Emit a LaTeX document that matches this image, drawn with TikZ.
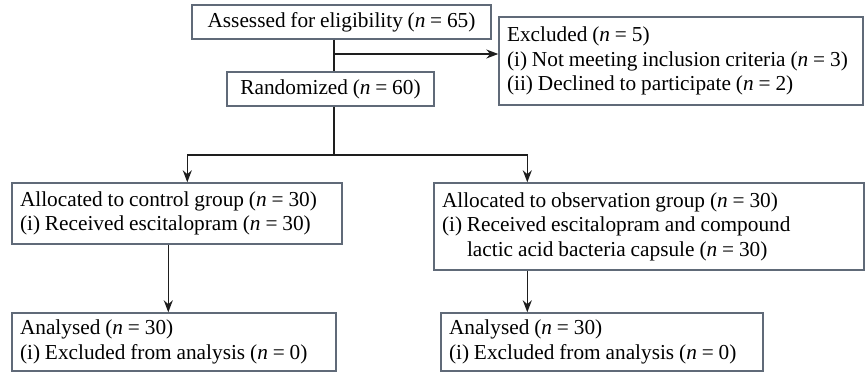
\documentclass[tikz,border=0pt]{standalone}
\usepackage{fontspec}
\setmainfont[WordSpace=0.9]{Liberation Serif}
\usepackage{tikz}
\usetikzlibrary{arrows.meta,positioning}
\usepackage{xcolor}
\definecolor{cfgray}{RGB}{96,106,120}
\definecolor{cfline}{RGB}{30,30,30}
\tikzstyle{stagebox} = [rectangle, draw=cfgray, line width=1.4pt, inner sep=0pt, text centered, font=\fontsize{21.3}{24.5}\selectfont]
\tikzstyle{listbox} = [stagebox, align=left, inner xsep=8pt, execute at begin node={\spaceskip=0.23em\relax}]
\tikzstyle{line} = [line width=1.5pt, color=cfline]
\tikzstyle{arrow} = [line, -{Stealth[length=12pt,width=9pt]}]

\begin{document}
\begin{tikzpicture}[x=1pt, y=-1pt]
\useasboundingbox (0,0) rectangle (866,377);

% Enrollment
\node[stagebox, minimum width=299pt, minimum height=34pt] (assess) at (341.5,22) {Assessed for eligibility (\textit{n} = 65)};
\node[stagebox, minimum width=207pt, minimum height=34pt] (rand) at (330.5,89) {Randomized (\textit{n} = 60)};
\node[listbox, text width=348pt, minimum height=88pt] (excl) at (681,61) {Excluded (\textit{n} = 5)\\(i) Not meeting inclusion criteria (\textit{n} = 3)\\(ii) Declined to participate (\textit{n} = 2)};

\coordinate (branch) at (334,54);
\coordinate (split) at (334,155);

\draw[line] (assess.south -| branch) -- (rand.north -| branch);
\draw[arrow] (branch) -- (branch -| excl.west);

% Allocation
\node[listbox, text width=314pt, minimum height=61pt] (ctrl) at (177,213.5) {Allocated to control group (\textit{n} = 30)\\(i) Received escitalopram (\textit{n} = 30)};
\node[listbox, text width=414pt, minimum height=87pt] (obs) at (649,226.5) {Allocated to observation group (\textit{n} = 30)\\(i) Received escitalopram and compound\\\phantom{(i)} lactic acid bacteria capsule (\textit{n} = 30)};

\draw[line] (rand.south -| split) -- (split);
\draw[arrow] (split) -| ([xshift=176pt]ctrl.north west);
\draw[arrow] (split) -| ([xshift=94pt]obs.north west);

% Analysis
\node[listbox, text width=308pt, minimum height=58pt] (anactrl) at (174,342) {Analysed (\textit{n} = 30)\\(i) Excluded from analysis (\textit{n} = 0)};
\node[listbox, text width=306pt, minimum height=58pt] (anaobs) at (602,342) {Analysed (\textit{n} = 30)\\(i) Excluded from analysis (\textit{n} = 0)};

\draw[arrow] ([xshift=157pt]ctrl.south west) -- ([xshift=157pt]ctrl.south west |- anactrl.north);
\draw[arrow] ([xshift=94pt]obs.south west) -- ([xshift=94pt]obs.south west |- anaobs.north);
\end{tikzpicture}
\end{document}
